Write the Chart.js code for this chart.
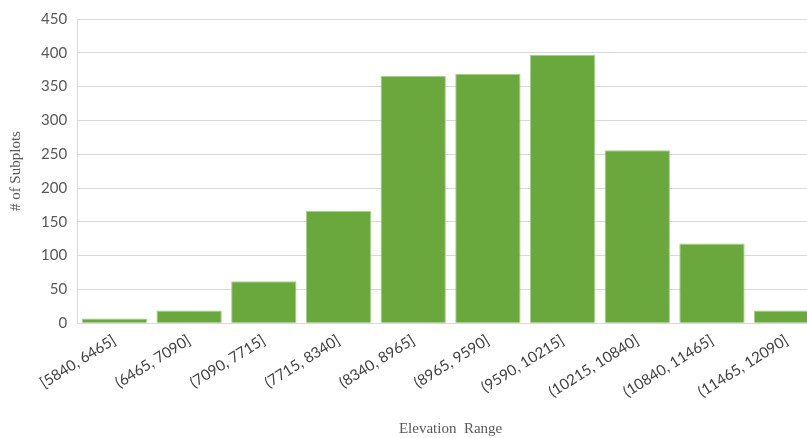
<!DOCTYPE html>
<html>
<head>
<meta charset="utf-8">
<script src="https://cdn.jsdelivr.net/npm/chart.js@4/dist/chart.umd.min.js"></script>
<style>
  html, body { margin: 0; padding: 0; background: #fff; overflow: hidden; }
  #wrap { width: 824px; height: 438px; }
</style>
</head>
<body>
<div id="wrap"><canvas id="c" width="824" height="438"></canvas></div>
<script>
// Elevation bins and subplot counts
const categories = ["[5840, 6465]", "(6465, 7090]", "(7090, 7715]", "(7715, 8340]", "(8340, 8965]",
  "(8965, 9590]", "(9590, 10215]", "(10215, 10840]", "(10840, 11465]", "(11465, 12090]"];
const subplotCounts = [7, 19, 62, 166, 366, 369, 397, 256, 118, 19];
const yTicks = [0, 50, 100, 150, 200, 250, 300, 350, 400, 450];

new Chart(document.getElementById('c'), {
  type: 'bar',
  data: {
    labels: categories,
    datasets: [{
      data: subplotCounts,
      backgroundColor: '#6aa73d',
      borderColor: '#a8d08a',
      borderWidth: 1,
      categoryPercentage: 1.0,
      barPercentage: 0.875
    }]
  },
  options: {
    responsive: false,
    animation: false,
    layout: { padding: { top: 9, left: 7, right: 0, bottom: 0 } },
    plugins: { legend: { display: false }, tooltip: { enabled: false } },
    scales: {
      x: {
        grid: { display: false, drawTicks: false },
        border: { display: true, color: '#d9d9d9', width: 1 },
        ticks: {
          color: '#404040',
          font: { family: 'Lato, "Open Sans", sans-serif', size: 15 },
          minRotation: 32, maxRotation: 32,
          padding: 8
        },
        title: {
          display: true,
          text: 'Elevation  Range',
          color: '#595959',
          font: { family: '"Liberation Serif", serif', size: 15 },
          padding: { top: 11, bottom: 0 }
        }
      },
      y: {
        min: 0, max: 450,
        afterBuildTicks: (axis) => { axis.ticks = yTicks.map(v => ({ value: v })); },
        grid: { color: '#d9d9d9', lineWidth: 1, drawTicks: false },
        border: { display: true, color: '#d9d9d9', width: 1 },
        ticks: {
          color: '#595959',
          font: { family: 'Lato, "Open Sans", sans-serif', size: 15 },
          padding: 10
        },
        title: {
          display: true,
          text: '# of Subplots',
          color: '#595959',
          font: { family: '"Liberation Serif", serif', size: 15 },
          padding: { top: 0, bottom: 6 }
        }
      }
    }
  }
});
</script>
</body>
</html>
